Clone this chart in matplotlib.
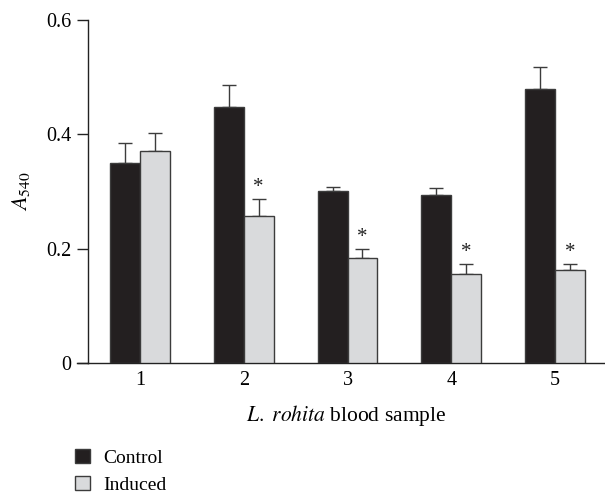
import matplotlib
matplotlib.use("Agg")
import matplotlib.pyplot as plt
import matplotlib.patches as mpatches
from matplotlib.lines import Line2D
import numpy as np

plt.rcParams["font.family"] = ["Liberation Serif", "DejaVu Serif"]
plt.rcParams["mathtext.fontset"] = "stix"

# data
samples = ["1", "2", "3", "4", "5"]
control = [0.349, 0.448, 0.301, 0.294, 0.480]
control_err = [0.035, 0.039, 0.007, 0.012, 0.037]
induced = [0.371, 0.258, 0.183, 0.155, 0.162]
induced_err = [0.031, 0.029, 0.017, 0.018, 0.012]
significant = [False, True, True, True, True]

fig = plt.figure(figsize=(6.05, 4.93), dpi=100)
ax = fig.add_axes([88 / 605, 1 - 363 / 493, 517 / 605, 343 / 493])

x = np.arange(1, len(samples) + 1)
w = 0.288
dark = "#231f20"
light = "#d9dadc"
edge = "#3c3c3c"

ax.bar(x - w / 2, control, w, color=dark, edgecolor=edge, linewidth=1.0, zorder=3)
ax.bar(x + w / 2, induced, w, color=light, edgecolor=edge, linewidth=1.0, zorder=3)
ax.errorbar(x - w / 2, control, yerr=[np.zeros(5), control_err], fmt="none",
            ecolor=edge, elinewidth=1.0, capsize=5, capthick=1.0, zorder=2)
ax.errorbar(x + w / 2, induced, yerr=[np.zeros(5), induced_err], fmt="none",
            ecolor=edge, elinewidth=1.0, capsize=5, capthick=1.0, zorder=2)

for xi, v, e, s in zip(x, induced, induced_err, significant):
    if s:
        ax.text(xi + w / 2, v + e + 0.003, "*", ha="center", va="bottom",
                fontsize=15, color="#222")

ax.set_xlim(0.5, 5.48)
ax.set_ylim(0, 0.6)
ax.set_yticks([0, 0.2, 0.4, 0.6])
ax.set_yticklabels(["0", "0.2", "0.4", "0.6"])
ax.set_xticks(x)
ax.set_xticklabels(samples)
ax.tick_params(axis="y", length=8, width=1.0, color="#222", labelsize=14.5, pad=4)
ax.tick_params(axis="x", length=0, labelsize=14.5, pad=6)
for sp in ["top", "right"]:
    ax.spines[sp].set_visible(False)
for sp in ["left", "bottom"]:
    ax.spines[sp].set_color("#222")
    ax.spines[sp].set_linewidth(1.0)
# bottom line runs a little past the left spine
ax.add_line(Line2D([-11 / 517, 0], [0, 0], transform=ax.transAxes,
                   color="#222", linewidth=1.0, clip_on=False))

ax.set_ylabel(r"$A_{540}$", fontsize=16, labelpad=10)
ax.set_xlabel(r"$\mathit{L.\ rohita}$ blood sample", fontsize=15.5, labelpad=9)

handles = [mpatches.Patch(facecolor=dark, edgecolor=edge, label="Control"),
           mpatches.Patch(facecolor=light, edgecolor=edge, label="Induced")]
fig.legend(handles=handles, loc="upper left", bbox_to_anchor=(75 / 605, 1 - 449 / 493),
           frameon=False, fontsize=14, handlelength=0.75, handleheight=0.75,
           handletextpad=0.7, labelspacing=0.45, borderaxespad=0, borderpad=0)

fig.savefig("out.png", dpi=100)
